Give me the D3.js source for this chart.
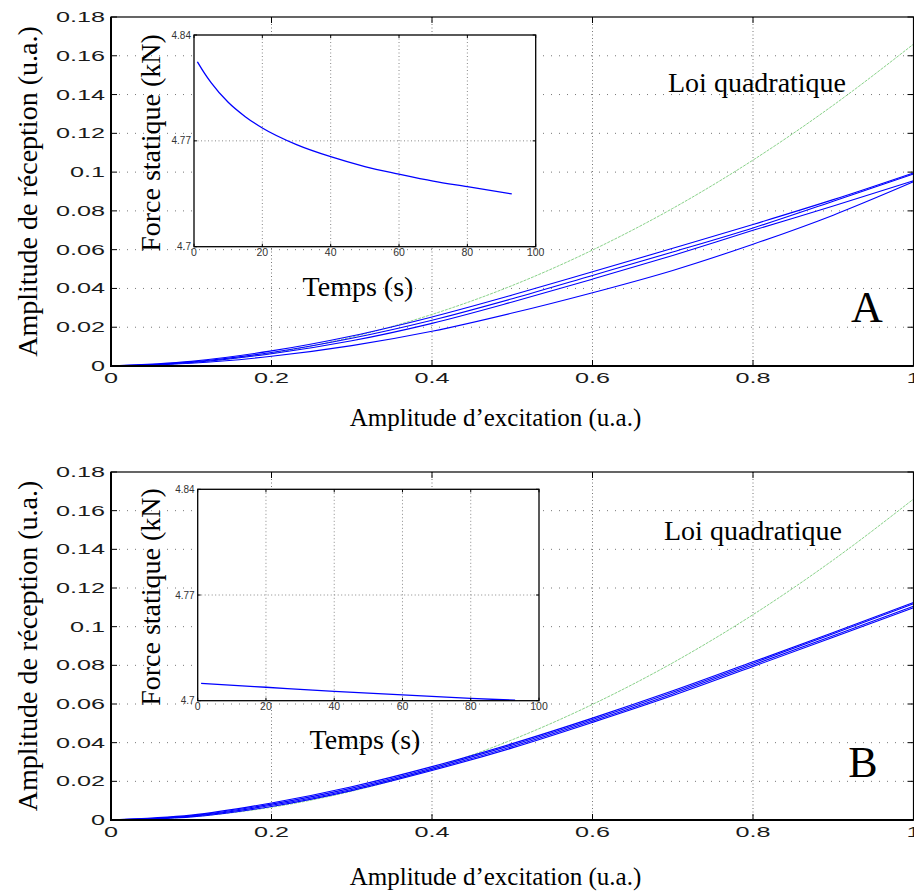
<!DOCTYPE html>
<html>
<head>
<meta charset="utf-8">
<script src="https://cdn.jsdelivr.net/npm/d3@7"></script>
<style>
  body { margin: 0; background: #fff; }
  svg { display: block; }
</style>
</head>
<body>
<div id="chart"></div>
<script>
// main axes
const xTicks = [0, 0.2, 0.4, 0.6, 0.8, 1];
const yTicks = [0, 0.02, 0.04, 0.06, 0.08, 0.1, 0.12, 0.14, 0.16, 0.18];
const amp = [0, 0.1, 0.2, 0.3, 0.4, 0.5, 0.6, 0.7, 0.8, 0.9, 1];

// "Loi quadratique" reference curve
const quad = [0, 0.0017, 0.0066, 0.0149, 0.0266, 0.0415, 0.0598, 0.0813, 0.1062, 0.1345, 0.166];

// panel A : reception amplitude, 4 measurements
const recA1 = [0, 0.0024, 0.0078, 0.0155, 0.0253, 0.0366, 0.0486, 0.0607, 0.0730, 0.0858, 0.0996];
const recA2 = [0, 0.0021, 0.0070, 0.0143, 0.0236, 0.0347, 0.0467, 0.0588, 0.0712, 0.0850, 0.0990];
const recA3 = [0, 0.0018, 0.0063, 0.0130, 0.0220, 0.0330, 0.0448, 0.0570, 0.0700, 0.0825, 0.0955];
const recA4 = [0, 0.0014, 0.0050, 0.0105, 0.0179, 0.0273, 0.0378, 0.0493, 0.0628, 0.0778, 0.0950];

// panel B
const recB1 = [0, 0.0025, 0.0088, 0.0172, 0.0276, 0.0395, 0.0527, 0.0668, 0.0818, 0.0970, 0.1125];
const recB2 = [0, 0.0022, 0.0082, 0.0165, 0.0269, 0.0388, 0.0520, 0.0661, 0.0811, 0.0963, 0.1118];
const recB3 = [0, 0.0019, 0.0076, 0.0158, 0.0262, 0.0380, 0.0512, 0.0652, 0.0802, 0.0953, 0.1106];
const recB4 = [0, 0.0016, 0.0070, 0.0152, 0.0256, 0.0373, 0.0505, 0.0644, 0.0794, 0.0945, 0.1098];

// insets : static force vs time
const insetXTicks = [0, 20, 40, 60, 80, 100];
const insetYTicks = [4.7, 4.77, 4.84];
const tempsA = [1, 3, 5, 10, 15, 20, 30, 40, 50, 60, 70, 80, 93];
const forceA = [4.8223, 4.8150, 4.8085, 4.7955, 4.7860, 4.7785, 4.7675, 4.7595, 4.7530, 4.7480, 4.7434, 4.7397, 4.7349];
const tempsB = [1, 20, 40, 60, 80, 93];
const forceB = [4.7115, 4.7089, 4.7062, 4.7038, 4.7016, 4.7003];

const w = 914, h = 893;
const serif = "'Liberation Serif', 'Times New Roman', serif";
const sans = "'Liberation Sans', Arial, sans-serif";

const panels = [
    {x0: 111, x1: 913.5, y0: 17, y1: 366, rec: [recA1, recA2, recA3, recA4],
     letter: "A", letterX: 867, letterY: 322, loiX: 668, loiY: 92,
     xTitleY: 426, yTitleY: 191.5,
     inset: {x0: 194, x1: 535.7, y0: 35, y1: 246.7, t: tempsA, f: forceA,
             labelX: 160, labelY: 143, tempsX: 358, tempsY: 296}},
    {x0: 111, x1: 913.5, y0: 472, y1: 820, rec: [recB1, recB2, recB3, recB4],
     letter: "B", letterX: 863, letterY: 777, loiX: 664, loiY: 540,
     xTitleY: 885, yTitleY: 646,
     inset: {x0: 197.7, x1: 539, y0: 489.3, y1: 700.7, t: tempsB, f: forceB,
             labelX: 160, labelY: 597, tempsX: 365, tempsY: 749}}
];

let svg = d3.select("#chart")
    .append("svg")
    .attr("width", w)
    .attr("height", h);

panels.forEach(function(p, pi) {
    let x = d3.scaleLinear().domain([0, 1]).range([p.x0, p.x1]);
    let y = d3.scaleLinear().domain([0, 0.18]).range([p.y1, p.y0]);
    let g = svg.append("g");

    // grid
    g.selectAll(".hgrid")
        .data(yTicks.slice(1, -1))
        .enter().append("line")
        .attr("x1", p.x0).attr("x2", p.x1)
        .attr("y1", d => y(d)).attr("y2", d => y(d))
        .style("stroke", "#777").style("stroke-width", 1)
        .style("stroke-dasharray", "1,7");
    g.selectAll(".vgrid")
        .data(xTicks.slice(1, -1))
        .enter().append("line")
        .attr("x1", d => x(d)).attr("x2", d => x(d))
        .attr("y1", p.y0).attr("y2", p.y1)
        .style("stroke", "#777").style("stroke-width", 1)
        .style("stroke-dasharray", "1,2.5");

    // curves
    let clipId = "clip" + pi;
    svg.append("clipPath").attr("id", clipId)
        .append("rect")
        .attr("x", p.x0).attr("y", p.y0)
        .attr("width", p.x1 - p.x0).attr("height", p.y1 - p.y0);

    let line = d3.line()
        .x((d, i) => x(amp[i]))
        .y(d => y(d))
        .curve(d3.curveMonotoneX);

    g.append("path")
        .attr("d", line(quad))
        .attr("clip-path", "url(#" + clipId + ")")
        .style("fill", "none")
        .style("stroke", "#7ccc7c")
        .style("stroke-width", 0.9)
        .style("stroke-dasharray", "3,1");

    g.selectAll(".rec")
        .data(p.rec)
        .enter().append("path")
        .attr("d", d => line(d))
        .attr("clip-path", "url(#" + clipId + ")")
        .style("fill", "none")
        .style("stroke", "#0000ff")
        .style("stroke-width", 1.1);

    // frame + ticks
    g.append("rect")
        .attr("x", p.x0).attr("y", p.y0)
        .attr("width", p.x1 - p.x0).attr("height", p.y1 - p.y0)
        .style("fill", "none").style("stroke", "#000").style("stroke-width", 1.2);
    g.append("line")
        .attr("x1", p.x0).attr("x2", p.x0).attr("y1", p.y0).attr("y2", p.y1 + 1)
        .style("stroke", "#000").style("stroke-width", 2);
    g.append("line")
        .attr("x1", p.x0 - 1).attr("x2", p.x1).attr("y1", p.y1).attr("y2", p.y1)
        .style("stroke", "#000").style("stroke-width", 2);

    let tl = 6;
    yTicks.forEach(function(d) {
        g.append("line").attr("x1", p.x0).attr("x2", p.x0 + tl)
            .attr("y1", y(d)).attr("y2", y(d)).style("stroke", "#000");
        g.append("line").attr("x1", p.x1).attr("x2", p.x1 - tl)
            .attr("y1", y(d)).attr("y2", y(d)).style("stroke", "#000");
        g.append("text")
            .attr("transform", "translate(" + (p.x0 - 6) + "," + (y(d) + 5) + ") scale(1.8,1)")
            .attr("text-anchor", "end")
            .style("font-family", sans).style("font-size", "14px").style("fill", "#1a1a1a")
            .text(d3.format("~g")(d));
    });
    xTicks.forEach(function(d) {
        g.append("line").attr("x1", x(d)).attr("x2", x(d))
            .attr("y1", p.y1).attr("y2", p.y1 - tl).style("stroke", "#000");
        g.append("line").attr("x1", x(d)).attr("x2", x(d))
            .attr("y1", p.y0).attr("y2", p.y0 + tl).style("stroke", "#000");
        g.append("text")
            .attr("transform", "translate(" + x(d) + "," + (p.y1 + 16.5) + ") scale(1.8,1)")
            .attr("text-anchor", "middle")
            .style("font-family", sans).style("font-size", "14px").style("fill", "#1a1a1a")
            .text(d3.format("~g")(d));
    });

    // titles
    g.append("text")
        .attr("x", (p.x0 + 880) / 2).attr("y", p.xTitleY)
        .attr("text-anchor", "middle")
        .style("font-family", serif).style("font-size", "25px")
        .text("Amplitude d\u2019excitation (u.a.)");
    g.append("text")
        .attr("transform", "translate(37," + p.yTitleY + ") rotate(-90)")
        .attr("text-anchor", "middle")
        .style("font-family", serif).style("font-size", "28px")
        .text("Amplitude de r\u00e9ception (u.a.)");
    g.append("text")
        .attr("x", p.loiX).attr("y", p.loiY)
        .style("font-family", serif).style("font-size", "28px")
        .text("Loi quadratique");
    g.append("text")
        .attr("x", p.letterX).attr("y", p.letterY)
        .attr("text-anchor", "middle")
        .style("font-family", serif).style("font-size", "44px")
        .text(p.letter);

    // inset
    let s = p.inset;
    let xi = d3.scaleLinear().domain([0, 100]).range([s.x0, s.x1]);
    let yi = d3.scaleLinear().domain([4.7, 4.84]).range([s.y1, s.y0]);
    let gi = svg.append("g");

    gi.append("rect")
        .attr("x", s.x0).attr("y", s.y0)
        .attr("width", s.x1 - s.x0).attr("height", s.y1 - s.y0)
        .style("fill", "#fff");
    gi.selectAll(".ivgrid")
        .data(insetXTicks.slice(1, -1))
        .enter().append("line")
        .attr("x1", d => xi(d)).attr("x2", d => xi(d))
        .attr("y1", s.y0).attr("y2", s.y1)
        .style("stroke", "#888").style("stroke-dasharray", "1,2.5");
    gi.selectAll(".ihgrid")
        .data(insetYTicks.slice(1, -1))
        .enter().append("line")
        .attr("x1", s.x0).attr("x2", s.x1)
        .attr("y1", d => yi(d)).attr("y2", d => yi(d))
        .style("stroke", "#888").style("stroke-dasharray", "1,2.5");

    let iline = d3.line()
        .x((d, i) => xi(s.t[i]))
        .y(d => yi(d))
        .curve(d3.curveMonotoneX);
    gi.append("path")
        .attr("d", iline(s.f))
        .style("fill", "none").style("stroke", "#0000ff").style("stroke-width", 1.3);

    gi.append("rect")
        .attr("x", s.x0).attr("y", s.y0)
        .attr("width", s.x1 - s.x0).attr("height", s.y1 - s.y0)
        .style("fill", "none").style("stroke", "#000").style("stroke-width", 1.3);

    insetYTicks.forEach(function(d) {
        gi.append("line").attr("x1", s.x0).attr("x2", s.x0 + 3)
            .attr("y1", yi(d)).attr("y2", yi(d)).style("stroke", "#000");
        gi.append("line").attr("x1", s.x1).attr("x2", s.x1 - 3)
            .attr("y1", yi(d)).attr("y2", yi(d)).style("stroke", "#000");
        gi.append("text")
            .attr("x", s.x0 - 3).attr("y", yi(d) + 3.5)
            .attr("text-anchor", "end")
            .style("font-family", sans).style("font-size", "10px").style("fill", "#333")
            .text(d3.format("~g")(d));
    });
    insetXTicks.forEach(function(d) {
        gi.append("line").attr("x1", xi(d)).attr("x2", xi(d))
            .attr("y1", s.y1).attr("y2", s.y1 - 3).style("stroke", "#000");
        gi.append("line").attr("x1", xi(d)).attr("x2", xi(d))
            .attr("y1", s.y0).attr("y2", s.y0 + 3).style("stroke", "#000");
        gi.append("text")
            .attr("x", xi(d)).attr("y", s.y1 + 9)
            .attr("text-anchor", "middle")
            .style("font-family", sans).style("font-size", "10.5px").style("fill", "#333")
            .text(d);
    });

    gi.append("text")
        .attr("transform", "translate(" + s.labelX + "," + s.labelY + ") rotate(-90)")
        .attr("text-anchor", "middle")
        .style("font-family", serif).style("font-size", "28px")
        .text("Force statique (kN)");
    gi.append("text")
        .attr("x", s.tempsX).attr("y", s.tempsY)
        .attr("text-anchor", "middle")
        .style("font-family", serif).style("font-size", "28px")
        .text("Temps (s)");
});
</script>
</body>
</html>
